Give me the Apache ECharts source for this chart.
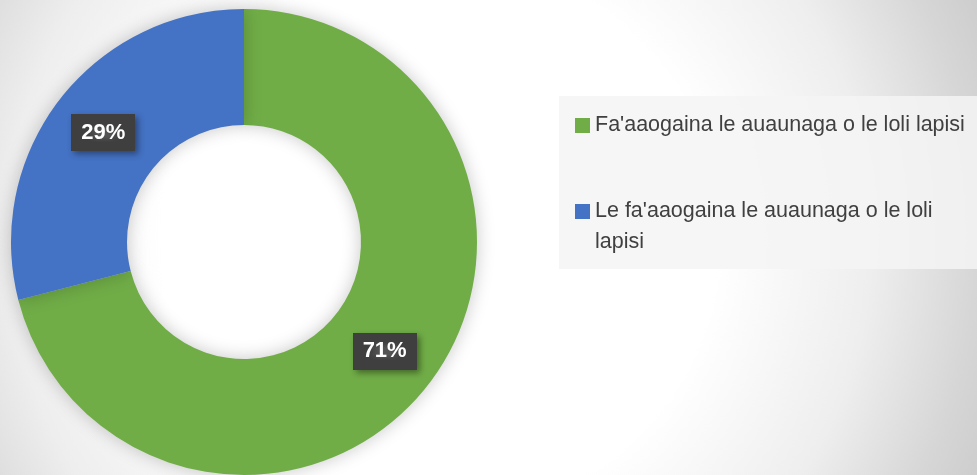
<!DOCTYPE html>
<html>
<head>
<meta charset="utf-8">
<script src="https://cdn.jsdelivr.net/npm/echarts@6/dist/echarts.min.js"></script>
<style>
  html, body { margin: 0; padding: 0; }
  #main { width: 977px; height: 475px; }
</style>
</head>
<body>
<div id="main"></div>
<script>
// categories
var names = ["Fa'aaogaina le auaunaga o le loli lapisi", "Le fa'aaogaina le auaunaga o le loli lapisi"];
// values (percent)
var values = [71, 29];
// slice colours
var colors = ['#70AD47', '#4472C4'];

// dotted dark pattern for the data labels
function dotPattern() {
    var c = document.createElement('canvas');
    c.width = 6; c.height = 6;
    var g = c.getContext('2d');
    g.fillStyle = '#3f3f3f';
    g.fillRect(0, 0, 6, 6);
    g.fillStyle = '#545454';
    g.fillRect(2, 2, 2, 2);
    return c;
}

var pieData = [];
for (var i = 0; i < names.length; i++) {
    pieData.push({ name: names[i], value: values[i], itemStyle: { color: colors[i] } });
}

var myChart = echarts.init(document.getElementById('main'));
var option = {
    backgroundColor: {
        type: 'radial', x: 0.45, y: 0.5, r: 1.3,
        colorStops: [
            { offset: 0, color: '#ffffff' },
            { offset: 0.45, color: '#ffffff' },
            { offset: 0.7, color: '#eeeeee' },
            { offset: 0.87, color: '#d6d6d6' },
            { offset: 1, color: '#c8c8c8' }
        ]
    },
    legend: {
        orient: 'vertical',
        left: 559,
        top: 96,
        width: 420,
        padding: [14, 10, 11, 16],
        backgroundColor: 'rgba(245,245,245,0.85)',
        itemWidth: 15,
        itemHeight: 15,
        itemGap: 24,
        icon: 'rect',
        // the wrapped entry gets an empty first line so its marker sits on the first text line
        formatter: function (name) {
            return name === names[1] ? '\n' + name : name;
        },
        textStyle: {
            fontFamily: 'Liberation Sans',
            fontSize: 21.5,
            color: '#404040',
            width: 375,
            overflow: 'break',
            lineHeight: 31
        },
        data: names
    },
    series: [{
        type: 'pie',
        center: [244, 242],
        radius: [117, 233],
        startAngle: 90,
        clockwise: true,
        avoidLabelOverlap: false,
        itemStyle: {
            shadowBlur: 18,
            shadowColor: 'rgba(0,0,0,0.22)'
        },
        label: {
            show: true,
            position: 'inside',
            formatter: '{c}%',
            fontFamily: 'Liberation Sans',
            fontWeight: 'bold',
            fontSize: 22,
            color: '#ffffff',
            backgroundColor: { image: dotPattern(), repeat: 'repeat' },
            padding: [8, 10, 7, 10],
            shadowBlur: 6,
            shadowOffsetX: 3,
            shadowOffsetY: 3,
            shadowColor: 'rgba(0,0,0,0.4)'
        },
        labelLine: { show: false },
        emphasis: { disabled: true },
        data: pieData
    }]
};
myChart.setOption(option);
</script>
</body>
</html>
